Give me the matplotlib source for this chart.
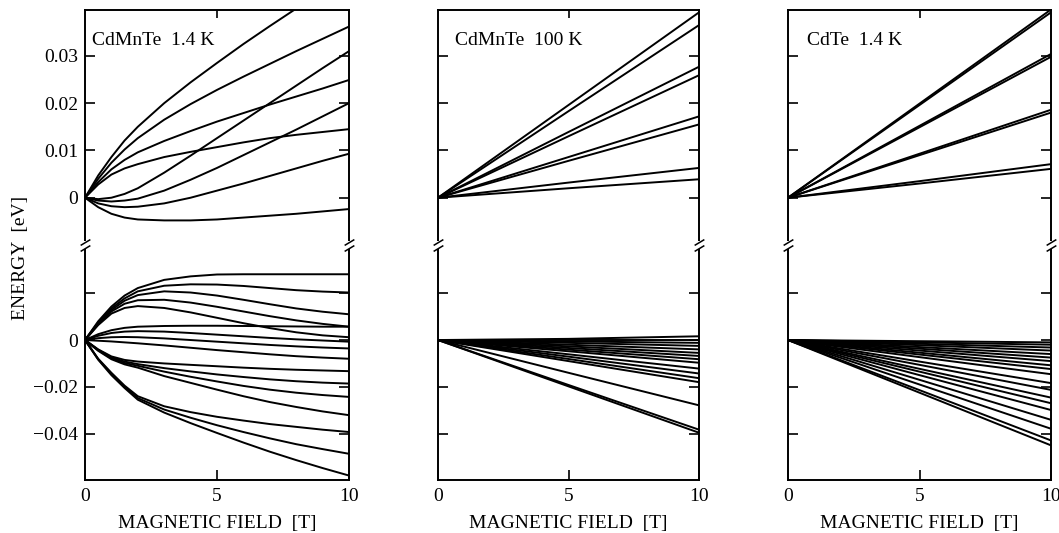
import matplotlib.pyplot as plt
import matplotlib.transforms as mtransforms

plt.rcParams["font.family"] = "serif"
plt.rcParams["font.serif"] = ["Liberation Serif", "DejaVu Serif"]

# magnetic field grids [T]
B_FINE = [0, 0.5, 1, 1.5, 2, 3, 4, 5, 6, 7, 8, 9, 10]
B_LIN = [0, 5, 10]

# CdMnTe 1.4 K, conduction band levels [eV] on B_FINE
CDMNTE_14K_CB = [
    [0, 0.0047, 0.0086, 0.0121, 0.0150, 0.0200, 0.0244, 0.0285, 0.0325, 0.0363, 0.0400, 0.0438, 0.0475],
    [0, 0.0040, 0.0074, 0.0102, 0.0126, 0.0165, 0.0198, 0.0228, 0.0256, 0.0283, 0.0310, 0.0336, 0.0362],
    [0, -0.0003, 0.0000, 0.0008, 0.0020, 0.0053, 0.0089, 0.0126, 0.0163, 0.0200, 0.0237, 0.0274, 0.0310],
    [0, 0.0033, 0.0060, 0.0080, 0.0096, 0.0120, 0.0141, 0.0161, 0.0179, 0.0197, 0.0214, 0.0231, 0.0249],
    [0, -0.0006, -0.0008, -0.0006, -0.0002, 0.0015, 0.0038, 0.0063, 0.0090, 0.0117, 0.0144, 0.0172, 0.0200],
    [0, 0.0028, 0.0049, 0.0062, 0.0071, 0.0086, 0.0097, 0.0107, 0.0117, 0.0126, 0.0133, 0.0139, 0.0145],
    [0, -0.0012, -0.0018, -0.0020, -0.0019, -0.0012, 0.0000, 0.0015, 0.0030, 0.0046, 0.0062, 0.0078, 0.0093],
    [0, -0.0020, -0.0034, -0.0042, -0.0046, -0.0048, -0.0048, -0.0046, -0.0042, -0.0038, -0.0034, -0.0029, -0.0024],
]

# CdMnTe 1.4 K, valence band levels [eV] on B_FINE
CDMNTE_14K_VB = [
    [0, 0.0080, 0.0143, 0.0190, 0.0222, 0.0257, 0.0272, 0.0280, 0.0281, 0.0281, 0.0281, 0.0281, 0.0281],
    [0, 0.0075, 0.0135, 0.0178, 0.0208, 0.0232, 0.0238, 0.0237, 0.0231, 0.0222, 0.0213, 0.0207, 0.0203],
    [0, 0.0071, 0.0128, 0.0168, 0.0192, 0.0208, 0.0203, 0.0190, 0.0172, 0.0153, 0.0135, 0.0121, 0.0110],
    [0, 0.0068, 0.0122, 0.0155, 0.0170, 0.0172, 0.0160, 0.0142, 0.0122, 0.0102, 0.0084, 0.0069, 0.0057],
    [0, 0.0064, 0.0113, 0.0137, 0.0145, 0.0137, 0.0118, 0.0095, 0.0072, 0.0051, 0.0033, 0.0020, 0.0012],
    [0, 0.0025, 0.0042, 0.0052, 0.0057, 0.0060, 0.0061, 0.0061, 0.0060, 0.0059, 0.0058, 0.0057, 0.0057],
    [0, 0.0018, 0.0030, 0.0036, 0.0038, 0.0036, 0.0030, 0.0023, 0.0016, 0.0009, 0.0003, -0.0002, -0.0007],
    [0, 0.0008, 0.0012, 0.0013, 0.0012, 0.0007, 0.0000, -0.0007, -0.0014, -0.0021, -0.0027, -0.0032, -0.0036],
    [0, -0.0003, -0.0006, -0.0010, -0.0014, -0.0023, -0.0033, -0.0043, -0.0052, -0.0061, -0.0069, -0.0075, -0.0080],
    [0, -0.0040, -0.0070, -0.0085, -0.0092, -0.0100, -0.0106, -0.0112, -0.0118, -0.0123, -0.0127, -0.0130, -0.0133],
    [0, -0.0042, -0.0074, -0.0092, -0.0103, -0.0120, -0.0134, -0.0147, -0.0158, -0.0168, -0.0176, -0.0182, -0.0186],
    [0, -0.0044, -0.0078, -0.0098, -0.0110, -0.0135, -0.0157, -0.0177, -0.0196, -0.0212, -0.0225, -0.0235, -0.0243],
    [0, -0.0046, -0.0082, -0.0104, -0.0118, -0.0154, -0.0183, -0.0212, -0.0240, -0.0265, -0.0286, -0.0305, -0.0321],
    [0, -0.0080, -0.0140, -0.0195, -0.0240, -0.0283, -0.0308, -0.0328, -0.0344, -0.0359, -0.0371, -0.0383, -0.0393],
    [0, -0.0082, -0.0145, -0.0200, -0.0248, -0.0297, -0.0332, -0.0364, -0.0393, -0.0420, -0.0445, -0.0466, -0.0486],
    [0, -0.0084, -0.0150, -0.0205, -0.0255, -0.0310, -0.0355, -0.0397, -0.0438, -0.0477, -0.0513, -0.0547, -0.0579],
]

# CdMnTe 100 K, levels [eV] on B_LIN
CDMNTE_100K_CB = [
    [0, 0.0196, 0.0392],
    [0, 0.0183, 0.0365],
    [0, 0.0139, 0.0277],
    [0, 0.0130, 0.0259],
    [0, 0.0086, 0.0172],
    [0, 0.0078, 0.0155],
    [0, 0.0032, 0.0063],
    [0, 0.0020, 0.0039],
]
CDMNTE_100K_VB = [
    [0, 0.0005, 0.0016],
    [0, 0.0000, 0.0000],
    [0, -0.0006, -0.0012],
    [0, -0.0012, -0.0025],
    [0, -0.0020, -0.0040],
    [0, -0.0027, -0.0055],
    [0, -0.0034, -0.0068],
    [0, -0.0041, -0.0082],
    [0, -0.0048, -0.0097],
    [0, -0.0061, -0.0122],
    [0, -0.0071, -0.0143],
    [0, -0.0081, -0.0163],
    [0, -0.0090, -0.0180],
    [0, -0.0140, -0.0279],
    [0, -0.0192, -0.0383],
    [0, -0.0198, -0.0396],
]

# CdTe 1.4 K, levels [eV] on B_LIN
CDTE_14K_CB = [
    [0, 0.0199, 0.0398],
    [0, 0.0196, 0.0392],
    [0, 0.0152, 0.0304],
    [0, 0.0149, 0.0298],
    [0, 0.0093, 0.0186],
    [0, 0.0090, 0.0180],
    [0, 0.0035, 0.0071],
    [0, 0.0030, 0.0061],
]
CDTE_14K_VB = [
    [0, -0.0005, -0.0010],
    [0, -0.0010, -0.0020],
    [0, -0.0016, -0.0032],
    [0, -0.0022, -0.0045],
    [0, -0.0030, -0.0060],
    [0, -0.0037, -0.0075],
    [0, -0.0045, -0.0090],
    [0, -0.0054, -0.0108],
    [0, -0.0062, -0.0124],
    [0, -0.0073, -0.0146],
    [0, -0.0092, -0.0184],
    [0, -0.0106, -0.0213],
    [0, -0.0123, -0.0246],
    [0, -0.0135, -0.0270],
    [0, -0.0150, -0.0299],
    [0, -0.0170, -0.0341],
    [0, -0.0190, -0.0379],
    [0, -0.0214, -0.0429],
    [0, -0.0225, -0.0450],
]

PANEL_TITLES = ["CdMnTe  1.4 K", "CdMnTe  100 K", "CdTe  1.4 K"]
TITLE_X = [0.027, 0.065, 0.072]

CB_TICKS = [0, 0.01, 0.02, 0.03]
CB_TICK_LABELS = ["0", "0.01", "0.02", "0.03"]
VB_TICKS = [0.02, 0, -0.02, -0.04]
VB_TICK_LABELS = ["", "0", "\u22120.02", "\u22120.04"]
X_TICKS = [0, 5, 10]
X_TICK_LABELS = ["0", "5", "10"]

panels = [
    (B_FINE, CDMNTE_14K_CB, B_FINE, CDMNTE_14K_VB),
    (B_LIN, CDMNTE_100K_CB, B_LIN, CDMNTE_100K_VB),
    (B_LIN, CDTE_14K_CB, B_LIN, CDTE_14K_VB),
]

W, H = 1059, 533
col_px = [(85, 349), (438, 699), (788, 1051)]
top_px, brk_px, bot_px = 10, 245, 480

fig = plt.figure(figsize=(W / 100, H / 100), dpi=100)
fs = 14
lw = 1.4


def draw_break(ax):
    """Small double-slash marks on both spines at the top of the lower axes."""
    for x in (0, 1):
        ax.plot([x], [1], transform=ax.transAxes, marker="|", markersize=6,
                mew=4, color="white", clip_on=False, zorder=5)
        for dy in (-2.0, 2.0):
            off = mtransforms.ScaledTranslation(0, dy / 72, fig.dpi_scale_trans)
            ax.plot([x], [1], transform=ax.transAxes + off,
                    marker=[(-1, -0.6), (1, 0.6)], markersize=7, mew=1.1,
                    color="k", clip_on=False, zorder=6)


for i, (bx_cb, cb, bx_vb, vb) in enumerate(panels):
    x0, x1 = col_px[i]
    left = x0 / W
    width = (x1 - x0) / W
    ax_top = fig.add_axes([left, (H - brk_px) / H, width, (brk_px - top_px) / H])
    ax_bot = fig.add_axes([left, (H - bot_px) / H, width, (bot_px - brk_px) / H])

    for line in cb:
        ax_top.plot(bx_cb, line, color="k", lw=lw)
    for line in vb:
        ax_bot.plot(bx_vb, line, color="k", lw=lw)

    ax_top.set_xlim(0, 10)
    ax_bot.set_xlim(0, 10)
    ax_top.set_ylim(-0.0100, 0.0397)
    ax_bot.set_ylim(-0.0598, 0.0406)

    for ax in (ax_top, ax_bot):
        for s in ax.spines.values():
            s.set_linewidth(1.4)
        ax.tick_params(direction="in", length=7, width=1.2, labelsize=fs,
                       left=True, right=True, pad=5)

    ax_top.spines["bottom"].set_visible(False)
    ax_bot.spines["top"].set_visible(False)

    ax_top.set_xticks([5])
    ax_top.tick_params(axis="x", top=True, bottom=False, labeltop=False,
                       labelbottom=False, length=6)
    ax_bot.set_xticks(X_TICKS)
    ax_bot.set_xticklabels(X_TICK_LABELS)
    ax_bot.tick_params(axis="x", top=False, bottom=True, pad=6)

    ax_top.set_yticks(CB_TICKS)
    ax_bot.set_yticks(VB_TICKS)
    if i == 0:
        ax_top.set_yticklabels(CB_TICK_LABELS)
        ax_bot.set_yticklabels(VB_TICK_LABELS)
    else:
        ax_top.set_yticklabels([])
        ax_bot.set_yticklabels([])

    ax_bot.set_xlabel("MAGNETIC FIELD  [T]", fontsize=fs, labelpad=7)
    ax_top.text(TITLE_X[i], 0.872, PANEL_TITLES[i], transform=ax_top.transAxes,
                fontsize=fs, va="center", ha="left")

    draw_break(ax_bot)

fig.text(21 / W, 1 - 258 / H, "ENERGY  [eV]", rotation=90, fontsize=fs,
         ha="center", va="center")

fig.savefig("out.png", dpi=100)
